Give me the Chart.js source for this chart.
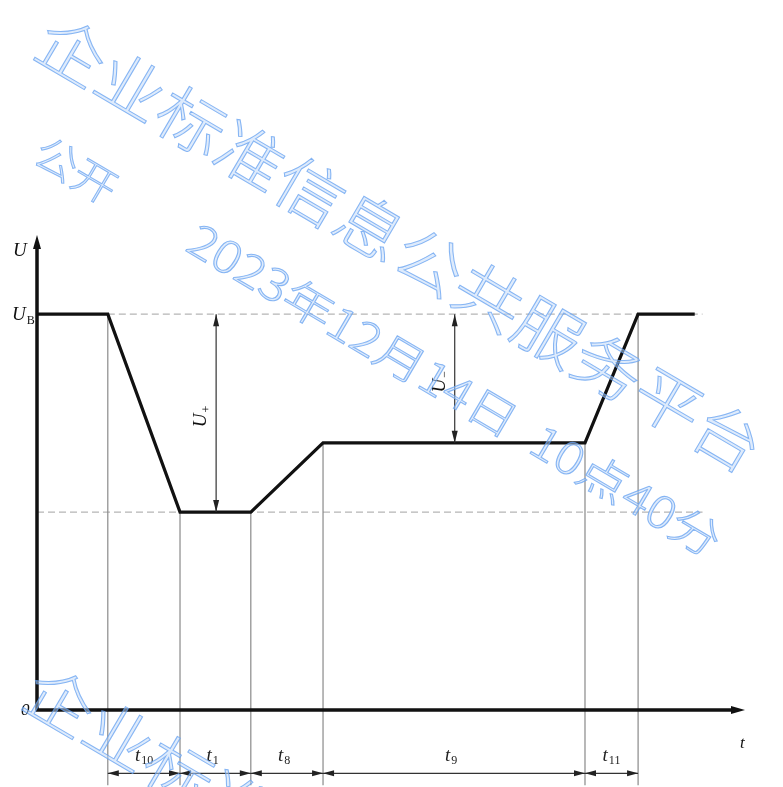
<!DOCTYPE html>
<html lang="zh">
<head>
    <meta charset="utf-8" />
    <title>电压波形</title>
    <script src="https://cdn.jsdelivr.net/npm/chart.js"></script>
    <style>
        html, body { margin: 0; padding: 0; background: #fff; }
        #wrap { width: 783px; height: 787px; }
    </style>
</head>
<body>
    <div id="wrap"><canvas id="profileChart" width="783" height="787"></canvas></div>

    <script>
        // breakpoints of the voltage profile (time in arbitrary units, voltage relative to U_B)
        const timePoints = [0, 10, 20.2, 30.2, 40.4, 77.4, 84.9, 92.9];
        const voltage = [1, 1, 0.5, 0.5, 0.675, 0.675, 1, 1];
        // interval names between consecutive markers (index 1..6)
        const intervalNames = [['t', '10'], ['t', '1'], ['t', '8'], ['t', '9'], ['t', '11']];
        const markerIndex = [1, 2, 3, 4, 5, 6];
        const levelB = 1;
        const levelLow = 0.5;
        const levelMid = 0.675;
        const tMax = 100;
        const uMax = 1.2;

        const serif = '"Liberation Serif", "DejaVu Serif", serif';
        const cjk = '"Noto Sans CJK SC", sans-serif';

        function arrowHead(ctx, x, y, dir, len, half) {
            // dir: angle in radians the arrow points to
            ctx.save();
            ctx.translate(x, y);
            ctx.rotate(dir);
            ctx.beginPath();
            ctx.moveTo(0, 0);
            ctx.lineTo(-len, -half);
            ctx.lineTo(-len, half);
            ctx.closePath();
            ctx.fill();
            ctx.restore();
        }

        function italicSub(ctx, x, y, main, sub, size) {
            ctx.font = 'italic ' + size + 'px ' + serif;
            ctx.textAlign = 'left';
            ctx.textBaseline = 'middle';
            ctx.fillText(main, x, y);
            const w = ctx.measureText(main).width;
            if (sub) {
                ctx.font = Math.round(size * 0.62) + 'px ' + serif;
                ctx.fillText(sub, x + w + 1, y + size * 0.28);
            }
        }

        const diagram = {
            id: 'diagram',
            beforeDatasetsDraw(chart) {
                const { ctx, scales: { x, y } } = chart;
                ctx.save();
                // dashed reference levels
                ctx.strokeStyle = '#b5b5b5';
                ctx.lineWidth = 1.2;
                ctx.setLineDash([7, 4]);
                ctx.beginPath();
                ctx.moveTo(x.getPixelForValue(timePoints[1]), y.getPixelForValue(levelB));
                ctx.lineTo(x.getPixelForValue(94), y.getPixelForValue(levelB));
                ctx.moveTo(x.getPixelForValue(0), y.getPixelForValue(levelLow));
                ctx.lineTo(x.getPixelForValue(94), y.getPixelForValue(levelLow));
                ctx.stroke();
                ctx.setLineDash([]);

                // thin vertical markers
                ctx.strokeStyle = '#8a8a8a';
                ctx.lineWidth = 1.2;
                ctx.beginPath();
                markerIndex.forEach(i => {
                    const px = x.getPixelForValue(timePoints[i]);
                    ctx.moveTo(px, y.getPixelForValue(voltage[i]));
                    ctx.lineTo(px, y.getPixelForValue(-0.19));
                });
                ctx.stroke();
                ctx.restore();
            },
            afterDraw(chart) {
                const { ctx, scales: { x, y } } = chart;
                const x0 = x.getPixelForValue(0), y0 = y.getPixelForValue(0);
                ctx.save();

                // axes
                ctx.strokeStyle = '#111';
                ctx.fillStyle = '#111';
                ctx.lineWidth = 3.5;
                ctx.beginPath();
                ctx.moveTo(x0, y0);
                ctx.lineTo(x0, y.getPixelForValue(1.17));
                ctx.moveTo(x0 - 1.5, y0);
                ctx.lineTo(x.getPixelForValue(99), y0);
                ctx.stroke();
                arrowHead(ctx, x0, y.getPixelForValue(1.2), -Math.PI / 2, 14, 4);
                arrowHead(ctx, x.getPixelForValue(100), y0, 0, 14, 4);

                // dimension arrows for U+ and U-
                ctx.strokeStyle = '#333';
                ctx.fillStyle = '#222';
                ctx.lineWidth = 1.2;
                const dims = [[25.3, levelLow], [59, levelMid]];
                dims.forEach(([t, lv]) => {
                    const px = x.getPixelForValue(t);
                    const top = y.getPixelForValue(levelB), bot = y.getPixelForValue(lv);
                    ctx.beginPath();
                    ctx.moveTo(px, top);
                    ctx.lineTo(px, bot);
                    ctx.stroke();
                    arrowHead(ctx, px, top, -Math.PI / 2, 12, 3);
                    arrowHead(ctx, px, bot, Math.PI / 2, 12, 3);
                });

                // time dimension line below axis
                const yd = y.getPixelForValue(-0.16);
                ctx.beginPath();
                ctx.moveTo(x.getPixelForValue(timePoints[1]), yd);
                ctx.lineTo(x.getPixelForValue(timePoints[6]), yd);
                ctx.stroke();
                for (let k = 0; k < intervalNames.length; k++) {
                    const a = x.getPixelForValue(timePoints[markerIndex[k]]);
                    const b = x.getPixelForValue(timePoints[markerIndex[k + 1]]);
                    arrowHead(ctx, a, yd, Math.PI, 11, 3);
                    arrowHead(ctx, b, yd, 0, 11, 3);
                    const mid = (a + b) / 2;
                    italicSub(ctx, mid - 9, y.getPixelForValue(-0.115), intervalNames[k][0], intervalNames[k][1], 19);
                }

                // axis labels
                ctx.fillStyle = '#111';
                italicSub(ctx, x0 - 24, y.getPixelForValue(1.16), 'U', '', 19);
                italicSub(ctx, x0 - 25, y.getPixelForValue(levelB) + 1, 'U', 'B', 19);
                ctx.font = 'italic 17px ' + serif;
                ctx.textAlign = 'left';
                ctx.fillText('0', x0 - 16, y0 + 1);
                ctx.fillText('t', x.getPixelForValue(99.3), y0 + 34);

                // rotated U+ / U- labels
                [[25.3, (levelB + levelLow) / 2, '+'], [59, (levelB + levelMid) / 2, '−']].forEach(([t, v, s]) => {
                    ctx.save();
                    ctx.translate(x.getPixelForValue(t) - 15, y.getPixelForValue(v) + 4);
                    ctx.rotate(-Math.PI / 2);
                    italicSub(ctx, -10, 0, 'U', s, 19);
                    ctx.restore();
                });

                // watermark
                const marks = [
                    { text: '企业标准信息公共服务平台', cx: 400, cy: 244, size: 64, len: 830 },
                    { text: '公开', cx: 76, cy: 170, size: 42, len: 88 },
                    { text: '2023年12月14日  10点40分', cx: 455, cy: 390, size: 44, len: 610 },
                    { text: '企业标准信息公共服务平台', cx: 388, cy: 894, size: 64, len: 830 }
                ];
                const ang = Math.atan2(400, 680);
                marks.forEach(m => {
                    ctx.save();
                    ctx.translate(m.cx, m.cy);
                    ctx.rotate(ang);
                    ctx.font = '300 ' + m.size + 'px ' + cjk;
                    ctx.textAlign = 'center';
                    ctx.textBaseline = 'middle';
                    const w = ctx.measureText(m.text).width;
                    ctx.scale(m.len / w, 1);
                    ctx.fillStyle = 'rgba(190, 215, 250, 0.5)';
                    ctx.strokeStyle = 'rgba(100, 160, 240, 0.75)';
                    ctx.lineWidth = 1;
                    ctx.fillText(m.text, 0, 0);
                    ctx.strokeText(m.text, 0, 0);
                    ctx.restore();
                });
                ctx.restore();
            }
        };

        new Chart(document.getElementById('profileChart'), {
            type: 'scatter',
            data: {
                datasets: [{
                    data: timePoints.map((t, i) => ({ x: t, y: voltage[i] })),
                    showLine: true,
                    borderColor: '#111',
                    borderWidth: 3.2,
                    pointRadius: 0,
                    borderJoinStyle: 'miter',
                    tension: 0
                }]
            },
            options: {
                responsive: false,
                animation: false,
                layout: { padding: { left: 37, right: 38, top: 235, bottom: 77 } },
                plugins: { legend: { display: false }, tooltip: { enabled: false } },
                scales: {
                    x: { type: 'linear', min: 0, max: tMax, display: false },
                    y: { type: 'linear', min: 0, max: uMax, display: false }
                }
            },
            plugins: [diagram]
        });
    </script>
</body>
</html>
